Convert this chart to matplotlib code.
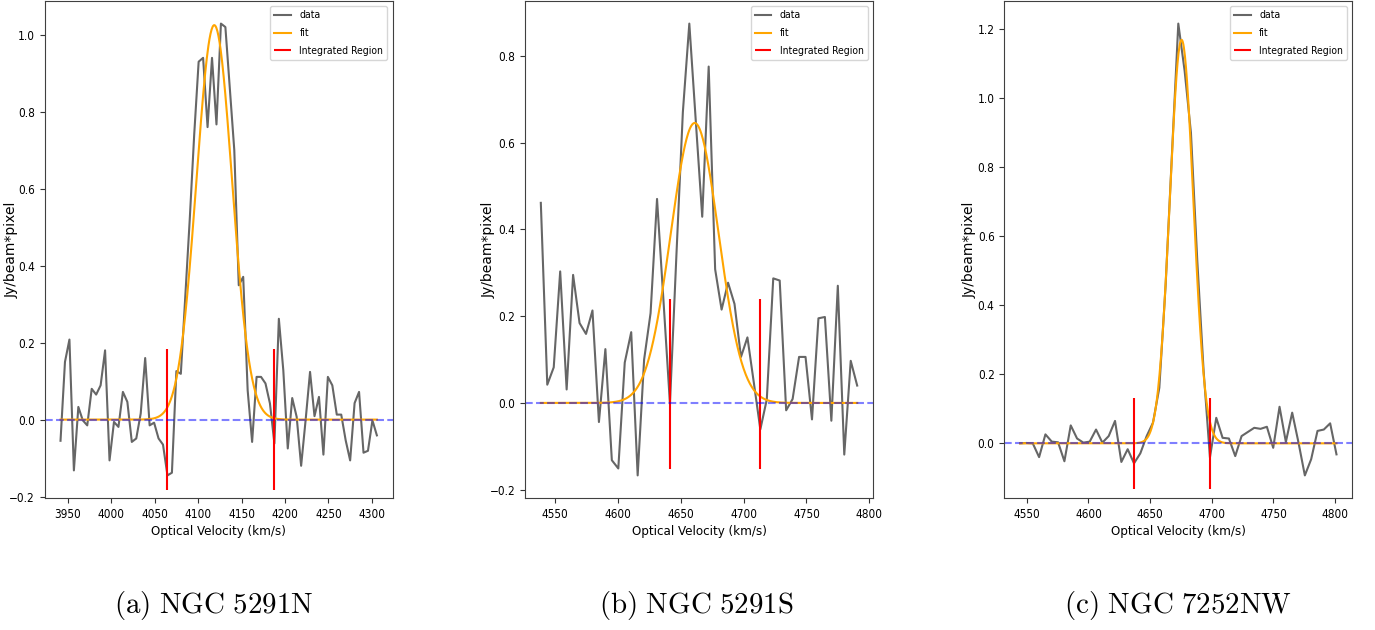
import matplotlib
matplotlib.use('Agg')
import matplotlib.pyplot as plt
import numpy as np
from matplotlib import font_manager
from matplotlib.ticker import MultipleLocator

# velocity channels (km/s): first channel and channel width for each source
start_a, step_a = 3941.5, 5.13
start_b, step_b = 4538.5, 5.14
start_c, step_c = 4544.6, 5.13

# measured spectra (Jy/beam*pixel)
flux_a = [-0.055, 0.150, 0.208, -0.132, 0.033, -0.002, -0.015, 0.080, 0.065, 0.089,
          0.180, -0.106, -0.006, -0.019, 0.072, 0.046, -0.058, -0.049, 0.016, 0.160,
          -0.015, -0.008, -0.049, -0.065, -0.145, -0.138, 0.126, 0.119, 0.32, 0.52,
          0.74, 0.930, 0.940, 0.760, 0.940, 0.767, 1.029, 1.020, 0.86, 0.700,
          0.349, 0.371, 0.076, -0.058, 0.111, 0.111, 0.094, 0.042, -0.062, 0.262,
          0.128, -0.075, 0.056, 0.007, -0.120, -0.002, 0.124, 0.009, 0.059, -0.091,
          0.111, 0.089, 0.013, 0.013, -0.054, -0.106, 0.043, 0.072, -0.086, -0.081,
          -0.002, -0.041]
flux_b = [0.461, 0.042, 0.082, 0.303, 0.031, 0.295, 0.184, 0.159, 0.213, -0.044,
          0.124, -0.132, -0.151, 0.093, 0.163, -0.167, 0.100, 0.207, 0.470, 0.235,
          -0.002, 0.34, 0.67, 0.874, 0.65, 0.429, 0.775, 0.308, 0.215, 0.277,
          0.228, 0.106, 0.151, 0.046, -0.061, 0.008, 0.287, 0.282, -0.017, 0.009,
          0.106, 0.106, -0.038, 0.195, 0.198, -0.041, 0.270, -0.119, 0.097, 0.040]
flux_c = [0.000, 0.001, 0.000, -0.040, 0.026, 0.005, 0.003, -0.052, 0.052, 0.014,
          0.002, 0.005, 0.040, 0.002, 0.021, 0.065, -0.054, -0.017, -0.058, -0.029,
          0.021, 0.060, 0.161, 0.46, 0.84, 1.217, 1.08, 0.90, 0.53, 0.21,
          -0.041, 0.074, 0.016, 0.014, -0.037, 0.021, 0.033, 0.045, 0.042, 0.048,
          -0.013, 0.106, 0.004, 0.089, 0.002, -0.093, -0.046, 0.036, 0.040, 0.058,
          -0.032]

# gaussian fit parameters: amplitude, centre, sigma
fit_a = (1.025, 4118.5, 20.5)
fit_b = (0.645, 4661.0, 19.0)
fit_c = (1.17, 4675.5, 9.5)

# integrated region edges and the y extent of the marker lines
region_a, region_ya = [4064.6, 4187.5], (-0.183, 0.184)
region_b, region_yb = [4641.0, 4713.0], (-0.152, 0.240)
region_c, region_yc = [4636.8, 4698.5], (-0.131, 0.132)

captions = ['(a) NGC 5291N', '(b) NGC 5291S', '(c) NGC 7252NW']

plt.rcParams['mathtext.fontset'] = 'cm'


def narrow_font():
    # the reference tick text is squeezed; use a condensed face if one is installed
    wanted = ['DejaVuSansCondensed.ttf', 'LiberationSansNarrow-Regular.ttf',
              'RobotoCondensed-Regular.ttf', 'OpenSans_Condensed-Regular.ttf']
    files = [f.fname for f in font_manager.fontManager.ttflist]
    for w in wanted:
        for path in files:
            if path.endswith(w):
                return path, True
    for path in files:
        base = path.rsplit('/', 1)[-1]
        if ('Condensed' in base or 'Narrow' in base) and 'Bold' not in base \
                and 'Oblique' not in base and 'Italic' not in base:
            return path, True
    return None, False


font_path, have_narrow = narrow_font()


def tick_prop(size):
    if have_narrow:
        return font_manager.FontProperties(fname=font_path, size=size)
    return font_manager.FontProperties(family='DejaVu Sans', size=size * 0.85)


def gaussian(x, amp, mu, sig):
    return amp * np.exp(-0.5 * ((x - mu) / sig) ** 2)


def draw_panel(ax, start, step, flux, fit, region, region_y, label_x):
    vel = start + step * np.arange(len(flux))
    ax.plot(vel, flux, color='black', alpha=0.6, lw=1.5, label='data')
    xf = np.linspace(vel[0], vel[-1], 600)
    ax.plot(xf, gaussian(xf, *fit), color='orange', lw=1.5, label='fit')

    # region markers should not change the autoscaled limits
    ylim = ax.get_ylim()
    ax.vlines(region, region_y[0], region_y[1], color='red', lw=1.5,
              label='Integrated Region')
    ax.set_ylim(ylim)
    ax.axhline(0, color='blue', ls='--', lw=1.5, alpha=0.5)

    ax.xaxis.set_major_locator(MultipleLocator(50))
    ax.yaxis.set_major_locator(MultipleLocator(0.2))
    ax.tick_params(color='0.2')
    fig.canvas.draw()
    for lab in ax.get_xticklabels() + ax.get_yticklabels():
        lab.set_fontproperties(tick_prop(8.5))
    for sp in ax.spines.values():
        sp.set_color('0.25')

    ax.set_xlabel('Optical Velocity (km/s)', fontproperties=tick_prop(9.5), labelpad=3)
    ax.set_ylabel('Jy/beam*pixel', fontsize=10)
    ax.yaxis.set_label_coords(label_x, 0.5)
    ax.legend(loc='upper right', prop=tick_prop(7.5), handlelength=1.6,
              labelspacing=0.75)


fig = plt.figure(figsize=(13.75, 6.3), dpi=100)
lefts = [44.7, 525.0, 1004.3]
label_xs = [-0.074, -0.083, -0.078]
panels = [(start_a, step_a, flux_a, fit_a, region_a, region_ya),
          (start_b, step_b, flux_b, fit_b, region_b, region_yb),
          (start_c, step_c, flux_c, fit_c, region_c, region_yc)]
for left, lx, args in zip(lefts, label_xs, panels):
    ax = fig.add_axes([left / 1375, 132 / 630, 348 / 1375, 497 / 630])
    draw_panel(ax, *args, lx)

centers = [214, 696, 1178]
for cx, cap in zip(centers, captions):
    fig.text(cx / 1375, 1 - 605 / 630, r'$\mathrm{' + cap.replace(' ', r'\ ') + '}$',
             fontsize=20.8, ha='center', va='center')

fig.savefig('out.png', dpi=100)
